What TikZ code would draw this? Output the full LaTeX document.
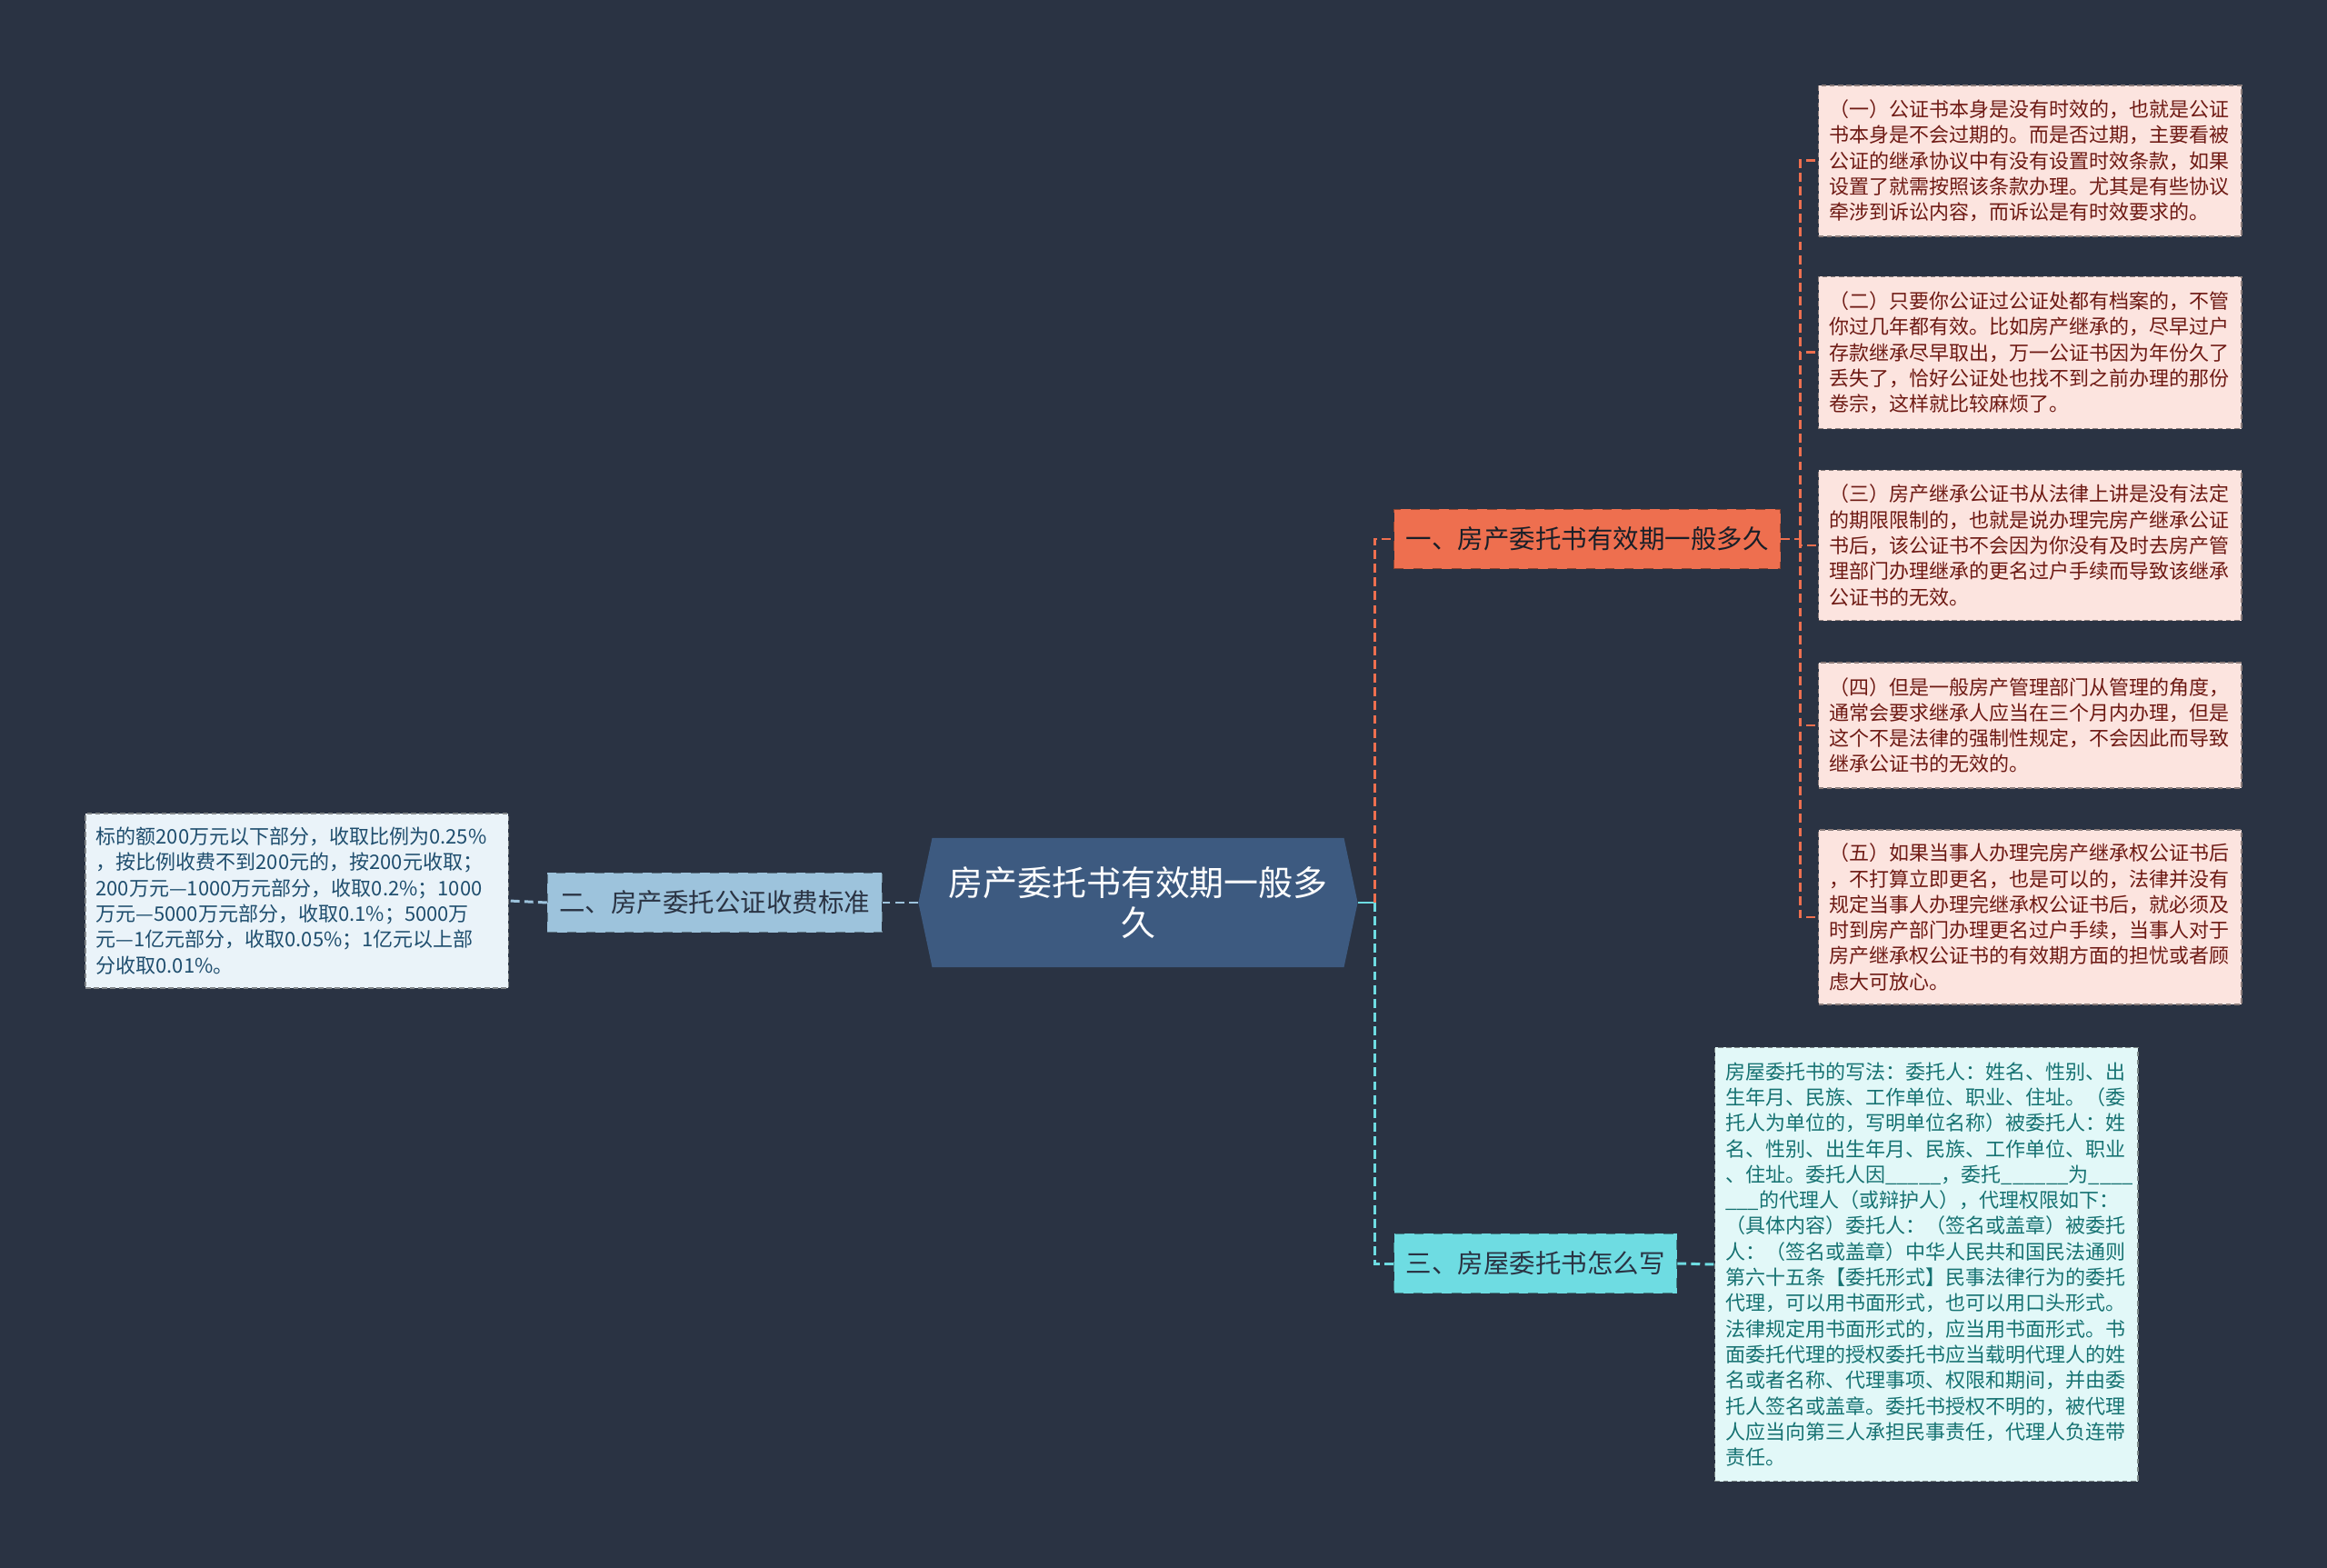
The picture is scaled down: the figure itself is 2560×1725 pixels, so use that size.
\documentclass[tikz,border=0pt]{standalone}
\usepackage{fontspec}
\setmainfont{Noto Sans CJK SC}
\usetikzlibrary{positioning,shapes.symbols,calc}
\definecolor{mmbg}{HTML}{2A3343}
\definecolor{mmroot}{HTML}{3D5A80}
\definecolor{mmorange}{HTML}{EE6F4F}
\definecolor{mmsteel}{HTML}{9DC3DC}
\definecolor{mmcyan}{HTML}{6EDCE2}
\definecolor{mmpink}{HTML}{FCE4DF}
\definecolor{mmpinktxt}{HTML}{6E1A14}
\definecolor{mmpale}{HTML}{EAF3F9}
\definecolor{mmpaletxt}{HTML}{1F4E6E}
\definecolor{mmaqua}{HTML}{E2F8F8}
\definecolor{mmaquatxt}{HTML}{167272}

\begin{document}
\begin{tikzpicture}[x=0.01cm, y=-0.01cm,
  node_root/.style={signal, signal to=west and east, signal pointer angle=156, fill=mmroot, text=white, minimum width=4.83cm, minimum height=1.42cm, inner sep=0pt, align=center, font=\fontsize{10.8}{12.5}\selectfont},
  node_br/.style={draw=#1!60!black, dashed, fill=#1, minimum height=0.65cm, inner xsep=0.13cm, font=\fontsize{8.1}{10}\selectfont},
  node_leaf/.style={draw=#1!55!black, dash pattern=on 1.6pt off 1pt, text width=4.42cm, inner xsep=0.115cm, align=left, font=\fontsize{6.26}{8.05}\selectfont},
  link/.style={line width=0.85pt, dash pattern=on 2.8pt off 1.5pt}
]
  \fill[mmbg] (0,0) rectangle (2560,1725);

  %% central topic
  \node[node_root] (root) at (1252,993) {房产委托书有效期一般多\\久};

  %% main branches
  \node[node_br=mmorange, text=mmbg!60!black, anchor=west] (br1) at (1533,593) {一、房产委托书有效期一般多久};
  \node[node_br=mmsteel, text=mmbg, anchor=east] (br2) at (971,993) {二、房产委托公证收费标准};
  \node[node_br=mmcyan, text=mmbg, anchor=west] (br3) at (1533,1390) {三、房屋委托书怎么写};

  \coordinate (j1) at (1512,993);
  \draw[mmcyan, line width=0.85pt] (root.east) -- (j1);
  \draw[link, mmorange] (j1) |- (br1.west);
  \draw[link, mmcyan] (j1) |- (br3.west);
  \draw[link, mmsteel] (root.west) -- (br2.east);

  %% leaves of branch 1
  \node[node_leaf=mmpink, fill=mmpink, text=mmpinktxt, minimum height=1.66cm, anchor=west] (l1) at (2000,177) {（一）公证书本身是没有时效的，也就是公证\\书本身是不会过期的。而是否过期，主要看被\\公证的继承协议中有没有设置时效条款，如果\\设置了就需按照该条款办理。尤其是有些协议\\牵涉到诉讼内容，而诉讼是有时效要求的。};
  \node[node_leaf=mmpink, fill=mmpink, text=mmpinktxt, minimum height=1.67cm, anchor=west] (l2) at (2000,388) {（二）只要你公证过公证处都有档案的，不管\\你过几年都有效。比如房产继承的，尽早过户\\存款继承尽早取出，万一公证书因为年份久了\\丢失了，恰好公证处也找不到之前办理的那份\\卷宗，这样就比较麻烦了。};
  \node[node_leaf=mmpink, fill=mmpink, text=mmpinktxt, minimum height=1.65cm, anchor=west] (l3) at (2000,600) {（三）房产继承公证书从法律上讲是没有法定\\的期限限制的，也就是说办理完房产继承公证\\书后，该公证书不会因为你没有及时去房产管\\理部门办理继承的更名过户手续而导致该继承\\公证书的无效。};
  \node[node_leaf=mmpink, fill=mmpink, text=mmpinktxt, minimum height=1.38cm, anchor=west] (l4) at (2000,798) {（四）但是一般房产管理部门从管理的角度，\\通常会要求继承人应当在三个月内办理，但是\\这个不是法律的强制性规定，不会因此而导致\\继承公证书的无效的。};
  \node[node_leaf=mmpink, fill=mmpink, text=mmpinktxt, minimum height=1.92cm, anchor=west] (l5) at (2000,1009) {（五）如果当事人办理完房产继承权公证书后\\，不打算立即更名，也是可以的，法律并没有\\规定当事人办理完继承权公证书后，就必须及\\时到房产部门办理更名过户手续，当事人对于\\房产继承权公证书的有效期方面的担忧或者顾\\虑大可放心。};

  \coordinate (j2) at (1980,593);
  \draw[link, mmorange] (br1.east) -- (j2);
  \foreach \k in {1,...,5}
    \draw[link, mmorange] (j2) |- (l\k.west);

  %% leaf of branch 2
  \node[node_leaf=mmpale, fill=mmpale, text=mmpaletxt, minimum height=1.92cm, anchor=east] (lb) at (560,991) {标的额200万元以下部分，收取比例为0.25\%\\，按比例收费不到200元的，按200元收取；\\200万元—1000万元部分，收取0.2\%；1000\\万元—5000万元部分，收取0.1\%；5000万\\元—1亿元部分，收取0.05\%；1亿元以上部\\分收取0.01\%。};
  \draw[link, mmsteel] (br2.west) -- (lb.east);

  %% leaf of branch 3
  \node[node_leaf=mmaqua, fill=mmaqua, text=mmaquatxt, minimum height=4.77cm, anchor=west] (lc) at (1886,1391) {房屋委托书的写法：委托人：姓名、性别、出\\生年月、民族、工作单位、职业、住址。（委\\托人为单位的，写明单位名称）被委托人：姓\\名、性别、出生年月、民族、工作单位、职业\\、住址。委托人因\_\_\_\_\_，委托\_\_\_\_\_\_为\_\_\_\_\\\_\_\_的代理人（或辩护人），代理权限如下：\\（具体内容）委托人：（签名或盖章）被委托\\人：（签名或盖章）中华人民共和国民法通则\\第六十五条【委托形式】民事法律行为的委托\\代理，可以用书面形式，也可以用口头形式。\\法律规定用书面形式的，应当用书面形式。书\\面委托代理的授权委托书应当载明代理人的姓\\名或者名称、代理事项、权限和期间，并由委\\托人签名或盖章。委托书授权不明的，被代理\\人应当向第三人承担民事责任，代理人负连带\\责任。};
  \draw[link, mmcyan] (br3.east) -- (lc.west);
\end{tikzpicture}
\end{document}
